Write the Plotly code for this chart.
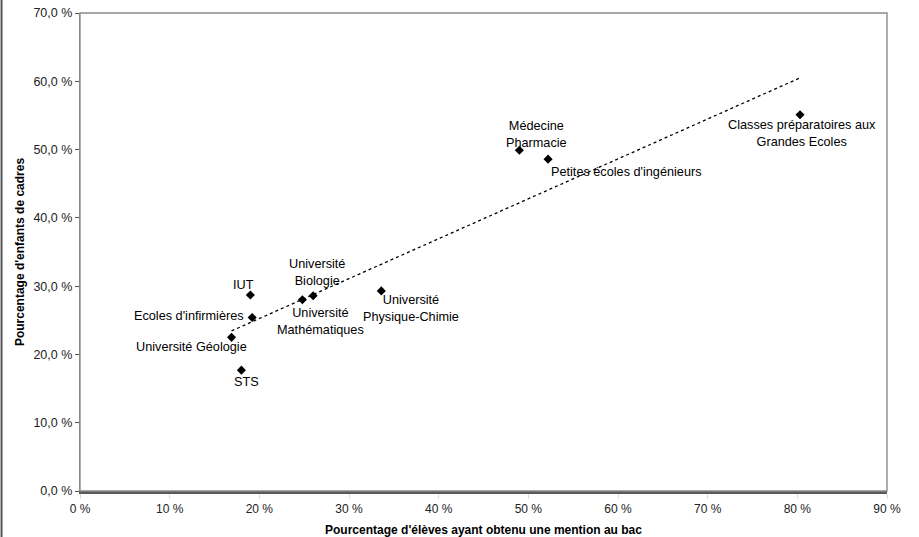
import numpy as np
import plotly.graph_objects as go

# Data
categories = [
    "IUT", "Ecoles d'infirmières", "Université Géologie", "STS",
    "Université<br>Mathématiques", "Université<br>Biologie",
    "Université<br>Physique-Chimie", "Médecine<br>Pharmacie",
    "Petites écoles d'ingénieurs", "Classes préparatoires aux<br>Grandes Ecoles",
]
pct_mention = [19.0, 19.2, 16.9, 18.0, 24.8, 26.0, 33.6, 49.0, 52.2, 80.3]
pct_cadres = [28.7, 25.4, 22.5, 17.7, 28.0, 28.6, 29.3, 49.9, 48.6, 55.1]

x_ticks = [0, 10, 20, 30, 40, 50, 60, 70, 80, 90]
y_ticks = [0, 10, 20, 30, 40, 50, 60, 70]

# Label placement (pixel offsets from each point, and anchors)
label_style = [
    dict(xshift=-7, yshift=10, xanchor="center", yanchor="middle"),
    dict(xshift=-6, yshift=2, xanchor="right", yanchor="middle"),
    dict(xshift=-40, yshift=-10, xanchor="center", yanchor="middle"),
    dict(xshift=5, yshift=-12, xanchor="center", yanchor="middle"),
    dict(xshift=18, yshift=-22, xanchor="center", yanchor="middle"),
    dict(xshift=4, yshift=23, xanchor="center", yanchor="middle"),
    dict(xshift=30, yshift=-18, xanchor="center", yanchor="middle"),
    dict(xshift=17, yshift=16, xanchor="center", yanchor="middle"),
    dict(xshift=78, yshift=-13, xanchor="center", yanchor="middle"),
    dict(xshift=2, yshift=-19, xanchor="center", yanchor="middle"),
]

FONT = "Liberation Sans, Arial, sans-serif"

x = np.array(pct_mention)
y = np.array(pct_cadres)
slope, intercept = np.polyfit(x, y, 1)
tx = np.array([x.min(), x.max()])
ty = slope * tx + intercept

fig = go.Figure()
fig.add_trace(go.Scatter(
    x=tx, y=ty, mode="lines",
    line=dict(color="#000000", width=1.3, dash="dot"),
    hoverinfo="skip", showlegend=False,
))
fig.add_trace(go.Scatter(
    x=pct_mention, y=pct_cadres, mode="markers",
    marker=dict(symbol="diamond", size=7, color="#000000"),
    showlegend=False,
))

for name, xv, yv, st in zip(categories, pct_mention, pct_cadres, label_style):
    fig.add_annotation(
        x=xv, y=yv, text=name, showarrow=False,
        xshift=st["xshift"], yshift=st["yshift"],
        xanchor=st["xanchor"], yanchor=st["yanchor"],
        font=dict(family=FONT, size=12.7, color="#000000"),
        align="center",
    )

W, H = 919, 537
ml, mr, mt, mb = 79.5, 32, 13, 46
pw = W - ml - mr

fig.update_layout(
    width=W, height=H,
    margin=dict(l=ml, r=mr, t=mt, b=mb, pad=0, autoexpand=False),
    paper_bgcolor="white", plot_bgcolor="white",
    separators=", ",
    font=dict(family=FONT, size=12, color="#000000"),
    shapes=[
        dict(type="rect", xref="paper", yref="paper", x0=0, x1=1, y0=0, y1=1,
             line=dict(color="#8a8a8a", width=1.4), layer="above"),
        dict(type="line", xref="paper", yref="paper", x0=-(ml - 1) / pw, x1=-(ml - 1) / pw,
             y0=-mb / (H - mt - mb), y1=1 + mt / (H - mt - mb),
             line=dict(color="#555555", width=2)),
    ],
)
fig.update_xaxes(
    range=[0, 90], tickvals=x_ticks, ticktext=[f"{v} %" for v in x_ticks],
    showgrid=False, zeroline=False, automargin=False,
    showline=True, linecolor="#5a5a5a", linewidth=2.5,
    ticks="outside", ticklen=5, tickcolor="#dddddd", tickwidth=1,
    tickfont=dict(family=FONT, size=12, color="#222222"),
    title=dict(text="<b>Pourcentage d'élèves ayant obtenu une mention au bac</b>",
               font=dict(family=FONT, size=12, color="#000000"), standoff=16),
)
fig.update_yaxes(
    range=[0, 70], tickvals=y_ticks, ticktext=[f"{v},0 %" for v in y_ticks],
    showgrid=False, zeroline=False, automargin=False,
    showline=True, linecolor="#8a8a8a", linewidth=1.4,
    ticks="outside", ticklen=4, tickcolor="#555555", tickwidth=1,
    tickfont=dict(family=FONT, size=12.5, color="#222222"),
    title=dict(text="<b>Pourcentage d'enfants de cadres</b>",
               font=dict(family=FONT, size=12, color="#000000"), standoff=6),
)

fig.write_html("out.html", config={"displayModeBar": False},
               post_script="document.body.style.margin='0px';")
